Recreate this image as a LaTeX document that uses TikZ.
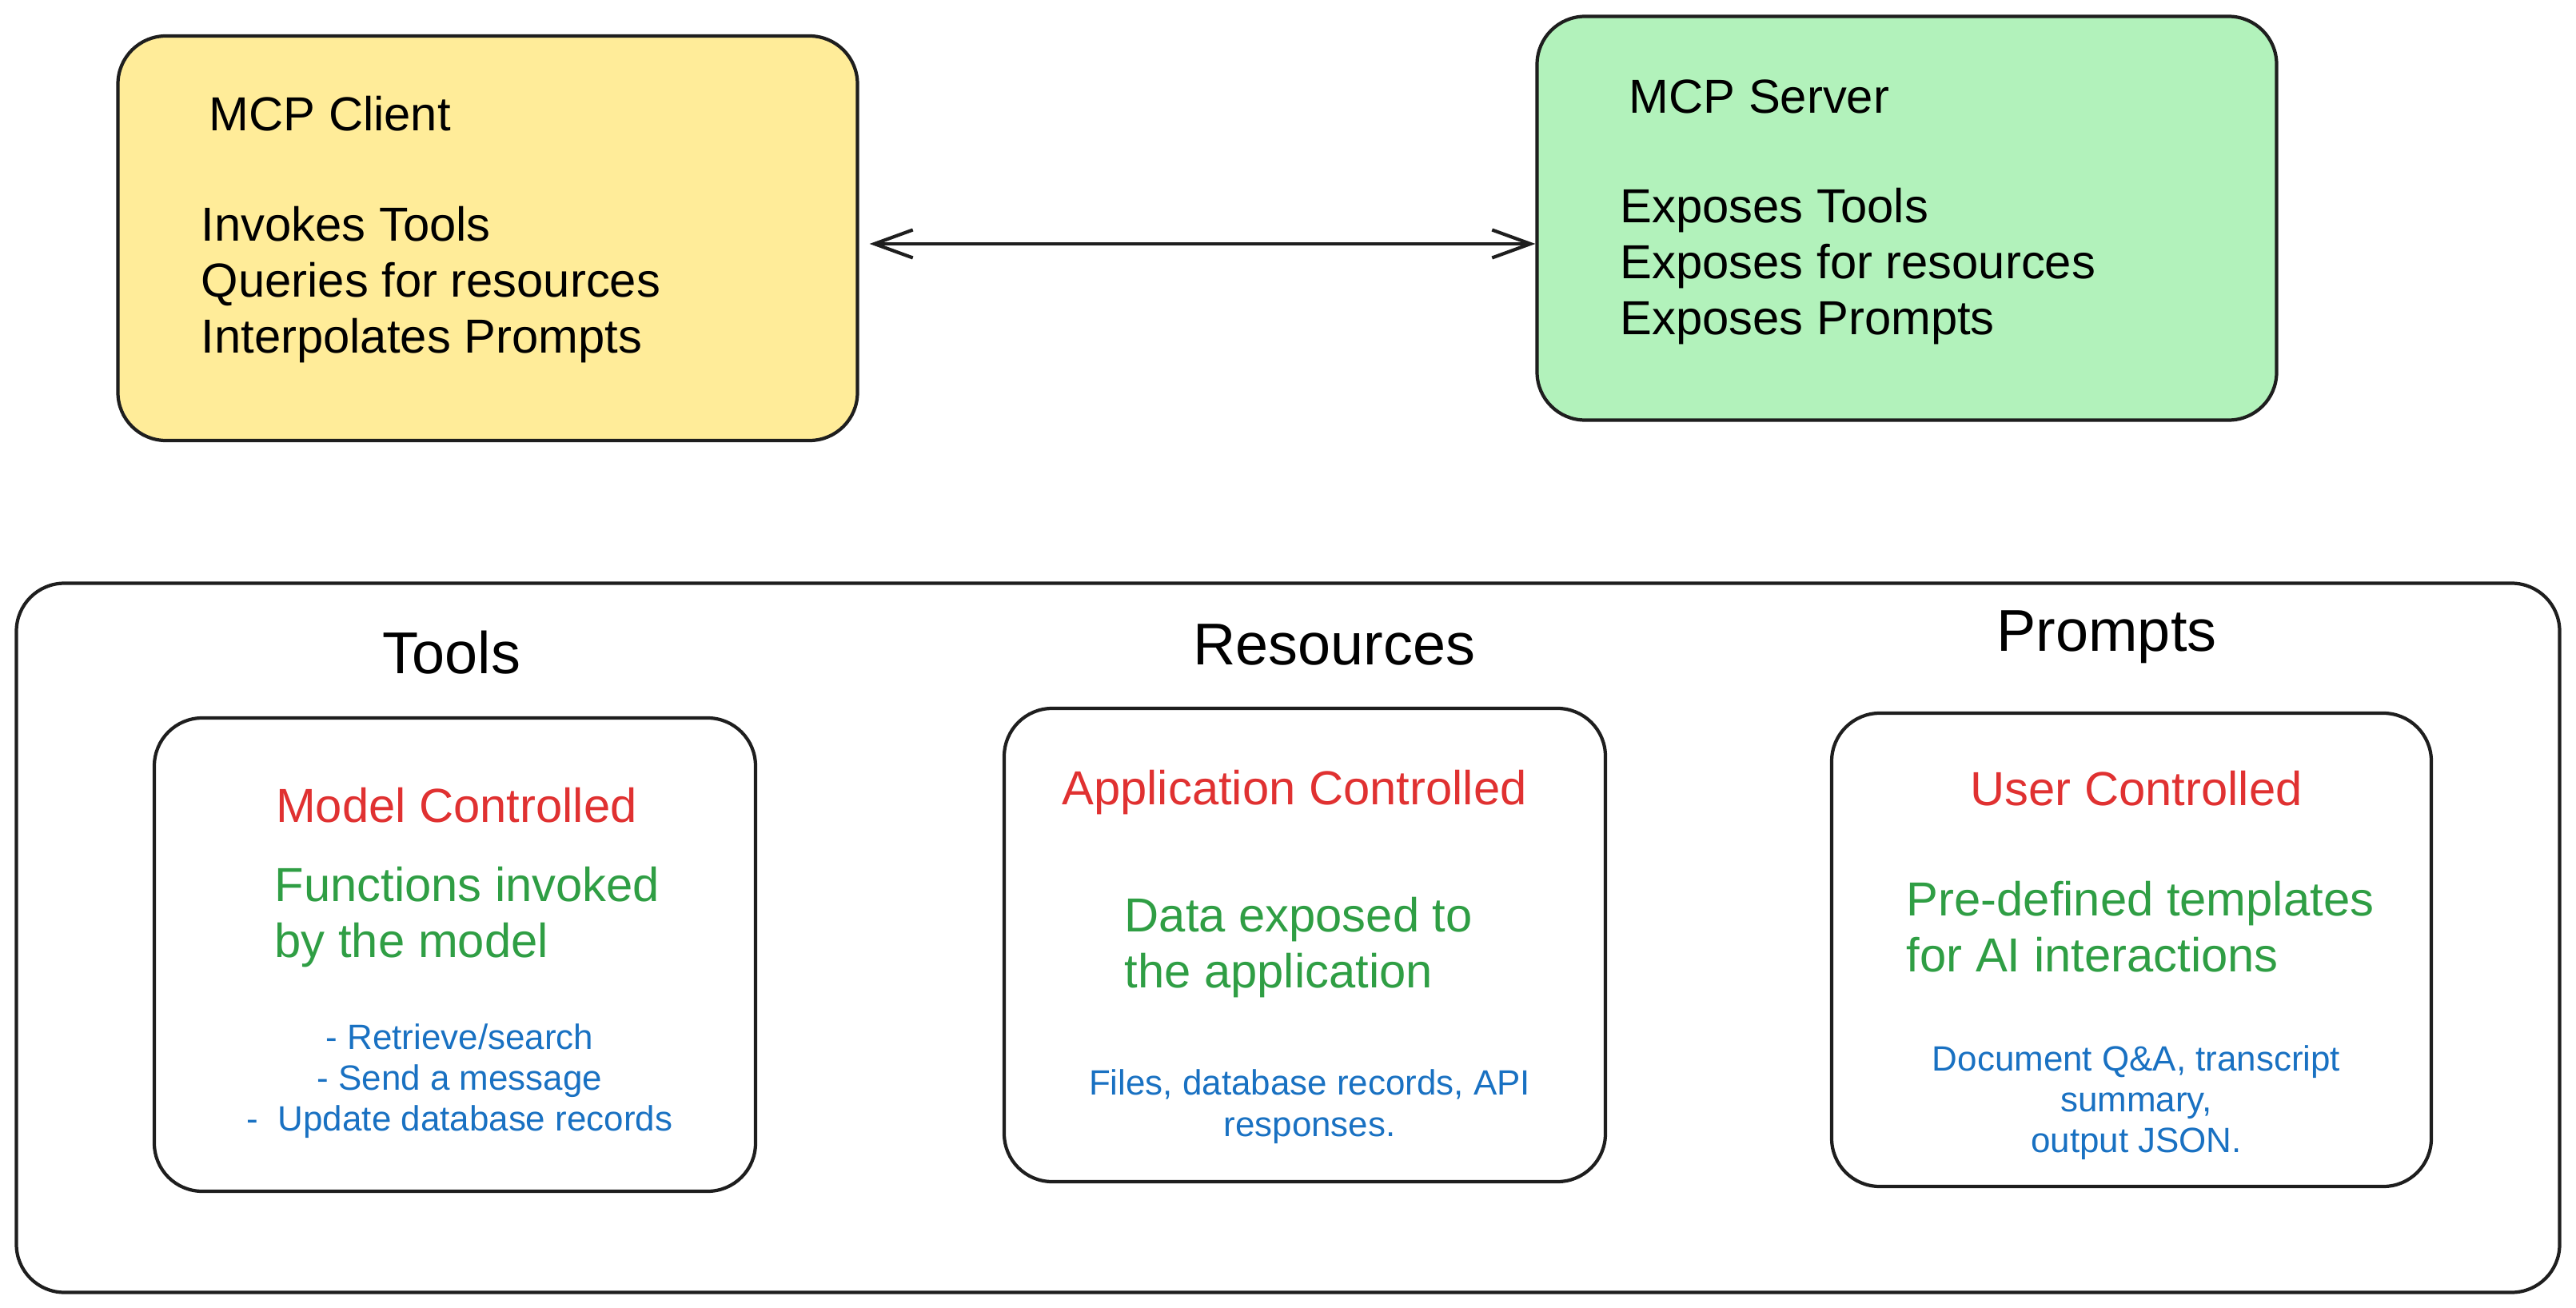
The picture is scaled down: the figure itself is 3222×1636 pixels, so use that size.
\documentclass[tikz,border=0pt]{standalone}
\usepackage{fontspec}
\setmainfont{Liberation Sans}
\usepackage{tikz}
\usetikzlibrary{shapes,arrows.meta,positioning}
\definecolor{stroke}{HTML}{1E1E1E}
\definecolor{clientyellow}{HTML}{FFEC99}
\definecolor{servergreen}{HTML}{B2F2BB}
\definecolor{ctrlred}{HTML}{E03131}
\definecolor{descgreen}{HTML}{2F9E44}
\definecolor{exblue}{HTML}{1971C2}
\tikzstyle{box} = [draw=stroke, line width=1.2pt, rounded corners=6mm]
\tikzstyle{arrow} = [draw=stroke, line width=1.2pt, {Straight Barb[length=4.8mm,width=3.5mm]}-{Straight Barb[length=4.8mm,width=3.5mm]}]
\tikzstyle{maintext} = [font=\fontsize{17}{19.9}\selectfont, align=left, anchor=west, inner sep=0mm]
\tikzstyle{heading} = [font=\fontsize{21}{25}\selectfont, inner sep=0mm]
\tikzstyle{ctrl} = [font=\fontsize{17}{20}\selectfont, text=ctrlred, inner sep=0mm]
\tikzstyle{desc} = [font=\fontsize{17}{19.9}\selectfont, text=descgreen, align=left, anchor=west, inner sep=0mm]
\tikzstyle{example} = [font=\fontsize{12.5}{14.6}\selectfont, text=exblue, align=center, inner sep=0mm]

\begin{document}
\begin{tikzpicture} [x=0.1mm, y=-0.1mm]

  \useasboundingbox (0,0) rectangle (3222,1636);

  % client and server
  \node[box, fill=clientyellow, minimum width=92.5mm, minimum height=50.6mm] (client) at (610,298) {};
  \node[box, fill=servergreen, minimum width=92.5mm, minimum height=50.5mm] (server) at (2385,273) {};

  \node[maintext] (clienttitle) at (261,142) {MCP Client};
  \node[maintext] (clientlist) at (251,356) {Invokes Tools\\Queries for resources\\Interpolates Prompts};
  \node[maintext] (servertitle) at (2037,121) {MCP Server};
  \node[maintext] (serverlist) at (2026,333) {Exposes Tools\\Exposes for resources\\Exposes Prompts};

  \coordinate (linkstart) at ([yshift=-0.7mm]client.east);
  \draw[arrow, shorten <=1.3mm] (linkstart) -- (server.west |- linkstart);

  % primitives
  \node[box, minimum width=318.1mm, minimum height=88.7mm] (primitives) at (1611,1173) {};

  \node[heading] (toolstitle) at (565,816) {Tools};
  \node[heading] (restitle) at (1669,806) {Resources};
  \node[heading] (promptstitle) at (2635,797) {Prompts};

  \node[box, minimum width=75.2mm, minimum height=59.2mm] (tools) at (569,1194) {};
  \node[box, minimum width=75.2mm, minimum height=59.2mm] (resources) at (1632,1182) {};
  \node[box, minimum width=75mm, minimum height=59.2mm] (prompts) at (2666,1188) {};

  \node[ctrl] (toolsctrl) at (571,1007) {Model Controlled};
  \node[desc] (toolsdesc) at (343,1147) {Functions invoked\\by the model};
  \node[example] (toolsex) at (575,1352) {- Retrieve/search\\- Send a message\\-\ \ Update database records};

  \node[ctrl] (resctrl) at (1619,991) {Application Controlled};
  \node[desc] (resdesc) at (1406,1185) {Data exposed to\\the application};
  \node[example] (resex) at (1638,1384) {Files, database records, API\\responses.};

  \node[ctrl] (promptsctrl) at (2672,986) {User Controlled};
  \node[desc] (promptsdesc) at (2384,1159) {Pre-defined templates\\for AI interactions};
  \node[example] (promptsex) at (2672,1379) {Document Q\&A, transcript\\summary,\\output JSON.};

\end{tikzpicture}
\end{document}
